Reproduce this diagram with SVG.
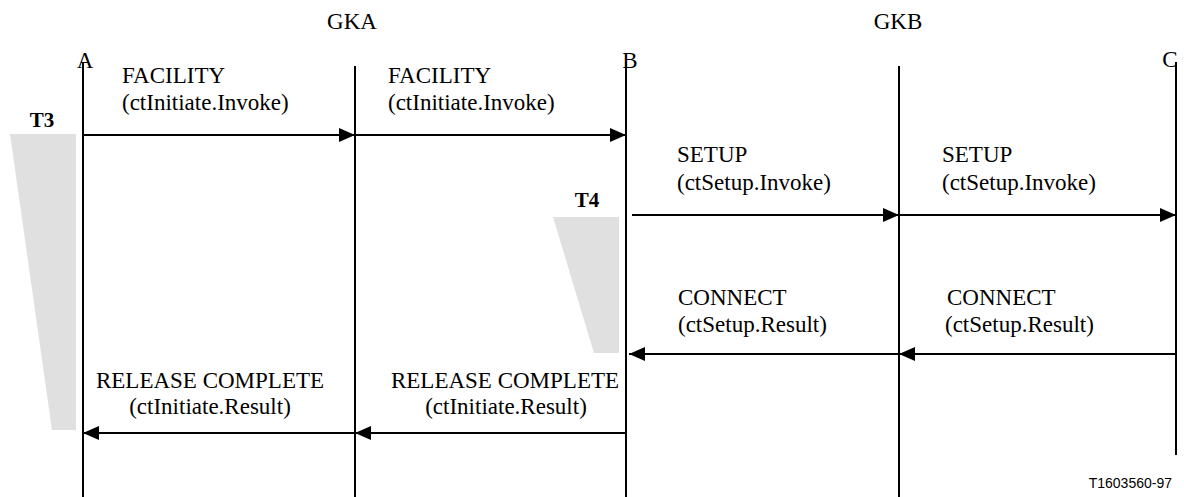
<svg xmlns="http://www.w3.org/2000/svg" width="1184" height="497" viewBox="0 0 1184 497">
<style>
.life{stroke:#000;stroke-width:2;fill:none}
.msg{stroke:#000;stroke-width:2;fill:none}
.t{font-family:"Liberation Serif","Times New Roman",serif;font-size:23px;fill:#000}
.tb{font-family:"Liberation Serif","Times New Roman",serif;font-size:21px;font-weight:bold;fill:#000}
.timer{fill:#e0e0e0;stroke:none}
.small{font-family:"Liberation Sans",Arial,sans-serif;font-size:14px;fill:#000}
</style>
<defs>
<marker id="ah" viewBox="0 0 16 14" refX="16" refY="7" markerWidth="16" markerHeight="14" markerUnits="userSpaceOnUse" orient="auto">
<path d="M0,0 L16,7 L0,14 Z" fill="#000"/>
</marker>
</defs>
<rect width="1184" height="497" fill="#fff"/>
<g id="timers">
<polygon class="timer" points="10,134 76,134 76,430 52,430"/>
<polygon class="timer" points="553,217 619,217 619,353 594,353"/>
<text class="tb" x="42" y="127" text-anchor="middle">T3</text>
<text class="tb" x="587" y="207" text-anchor="middle">T4</text>
</g>
<g id="node-A">
<line class="life" x1="83" y1="62" x2="83" y2="497"/>
<text class="t" x="85" y="68" text-anchor="middle">A</text>
</g>
<g id="node-GKA">
<line class="life" x1="355" y1="66" x2="355" y2="497"/>
<text class="t" x="352" y="29" text-anchor="middle">GKA</text>
</g>
<g id="node-B">
<line class="life" x1="626" y1="62" x2="626" y2="497"/>
<text class="t" x="630" y="68" text-anchor="middle">B</text>
</g>
<g id="node-GKB">
<line class="life" x1="899" y1="66" x2="899" y2="497"/>
<text class="t" x="898" y="29" text-anchor="middle">GKB</text>
</g>
<g id="node-C">
<line class="life" x1="1176" y1="62" x2="1176" y2="455"/>
<text class="t" x="1170" y="67" text-anchor="middle">C</text>
</g>
<g id="connectors">
<line class="msg" x1="83" y1="135" x2="355" y2="135" marker-end="url(#ah)"/>
<line class="msg" x1="355" y1="135" x2="626" y2="135" marker-end="url(#ah)"/>
<line class="msg" x1="632" y1="215" x2="899" y2="215" marker-end="url(#ah)"/>
<line class="msg" x1="899" y1="215" x2="1176" y2="215" marker-end="url(#ah)"/>
<line class="msg" x1="1176" y1="354" x2="899" y2="354" marker-end="url(#ah)"/>
<line class="msg" x1="899" y1="354" x2="629" y2="354" marker-end="url(#ah)"/>
<line class="msg" x1="626" y1="433" x2="355" y2="433" marker-end="url(#ah)"/>
<line class="msg" x1="355" y1="433" x2="83" y2="433" marker-end="url(#ah)"/>
</g>
<g id="labels">
<text class="t" x="122" y="83">FACILITY</text>
<text class="t" x="122" y="110">(ctInitiate.Invoke)</text>
<text class="t" x="388" y="83">FACILITY</text>
<text class="t" x="388" y="110">(ctInitiate.Invoke)</text>
<text class="t" x="677" y="162">SETUP</text>
<text class="t" x="677" y="190">(ctSetup.Invoke)</text>
<text class="t" x="942" y="162">SETUP</text>
<text class="t" x="942" y="190">(ctSetup.Invoke)</text>
<text class="t" x="678" y="305">CONNECT</text>
<text class="t" x="678" y="332">(ctSetup.Result)</text>
<text class="t" x="947" y="305">CONNECT</text>
<text class="t" x="945" y="332">(ctSetup.Result)</text>
<text class="t" x="210" y="388" text-anchor="middle">RELEASE COMPLETE</text>
<text class="t" x="210" y="414" text-anchor="middle">(ctInitiate.Result)</text>
<text class="t" x="505" y="388" text-anchor="middle">RELEASE COMPLETE</text>
<text class="t" x="506" y="414" text-anchor="middle">(ctInitiate.Result)</text>
<text class="small" x="1172" y="488" text-anchor="end">T1603560-97</text>
</g>
</svg>
